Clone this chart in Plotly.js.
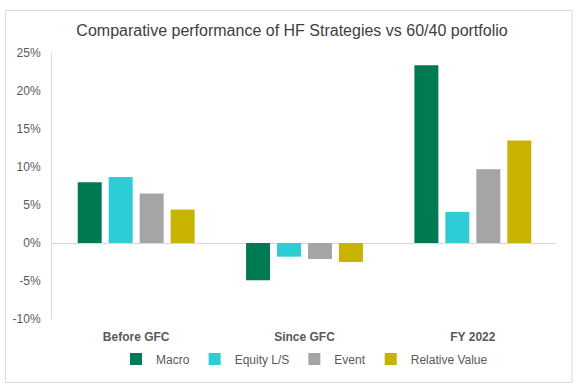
<!DOCTYPE html>
<html>
<head>
<meta charset="utf-8">
<script src="https://cdn.plot.ly/plotly-3.0.1.min.js"></script>
<style>
html,body{margin:0;padding:0;background:#fff;}
#chart{width:584px;height:390px;}
</style>
</head>
<body>
<div id="chart"></div>
<script>
var categories = ["Before GFC", "Since GFC", "FY 2022"];
var seriesNames = ["Macro", "Equity L/S", "Event", "Relative Value"];
var macro = [8.0, -4.9, 23.4];
var equityLS = [8.7, -1.8, 4.1];
var event = [6.5, -2.1, 9.7];
var relativeValue = [4.4, -2.5, 13.5];
var yTickVals = [-10, -5, 0, 5, 10, 15, 20, 25];
var yTickLabels = ["-10%", "-5%", "0%", "5%", "10%", "15%", "20%", "25%"];

var colors = ["#007A53", "#2ECCD4", "#A5A5A5", "#C8B400"];
var allValues = [macro, equityLS, event, relativeValue];

var font = "Liberation Sans, Arial, sans-serif";

var traces = allValues.map(function (vals, i) {
  return {
    type: "bar",
    name: seriesNames[i],
    x: categories,
    y: vals,
    marker: { color: colors[i], line: { width: 0 } },
    hoverinfo: "x+y+name"
  };
});

var plotL = 52, plotR = 557.5, plotT = 53, plotB = 319;
var pw = plotR - plotL, ph = plotB - plotT;

var layout = {
  width: 584,
  height: 390,
  margin: { l: plotL, r: 584 - plotR, t: plotT, b: 390 - plotB, pad: 0 },
  paper_bgcolor: "#ffffff",
  plot_bgcolor: "#ffffff",
  barmode: "group",
  bargap: 0.264,
  bargroupgap: 0.226,
  title: {
    text: "Comparative performance of HF Strategies vs 60/40 portfolio",
    font: { family: font, size: 16, color: "#404040" },
    x: 0.5, xanchor: "center",
    y: 1 - 30 / 390, yanchor: "middle", yref: "container"
  },
  xaxis: {
    type: "category",
    showgrid: false,
    zeroline: false,
    showline: false,
    ticks: "",
    ticklabelstandoff: 9,
    tickfont: { family: font, size: 12, color: "#595959", weight: "bold" }
  },
  yaxis: {
    range: [-10, 25],
    tickmode: "array",
    tickvals: yTickVals,
    ticktext: yTickLabels,
    showgrid: false,
    zeroline: true,
    zerolinecolor: "#D9D9D9",
    zerolinewidth: 1,
    showline: true,
    linecolor: "#D9D9D9",
    linewidth: 1,
    ticks: "",
    ticklabelstandoff: 8,
    tickfont: { family: font, size: 12, color: "#595959" }
  },
  showlegend: true,
  legend: {
    orientation: "h",
    x: 0.5, xanchor: "center",
    y: (plotB - 359) / ph, yanchor: "middle",
    font: { family: font, size: 12, color: "#595959" },
    itemwidth: 30,
    bgcolor: "rgba(0,0,0,0)"
  },
  shapes: [{
    type: "rect",
    xref: "paper", yref: "paper",
    x0: (5.5 - plotL) / pw, x1: (572.5 - plotL) / pw,
    y0: (plotB - 382.5) / ph, y1: (plotB - 10.5) / ph,
    line: { color: "#D9D9D9", width: 1 },
    fillcolor: "rgba(0,0,0,0)",
    layer: "below"
  }]
};

Plotly.newPlot("chart", traces, layout, { displayModeBar: false, staticPlot: true });
</script>
</body>
</html>
